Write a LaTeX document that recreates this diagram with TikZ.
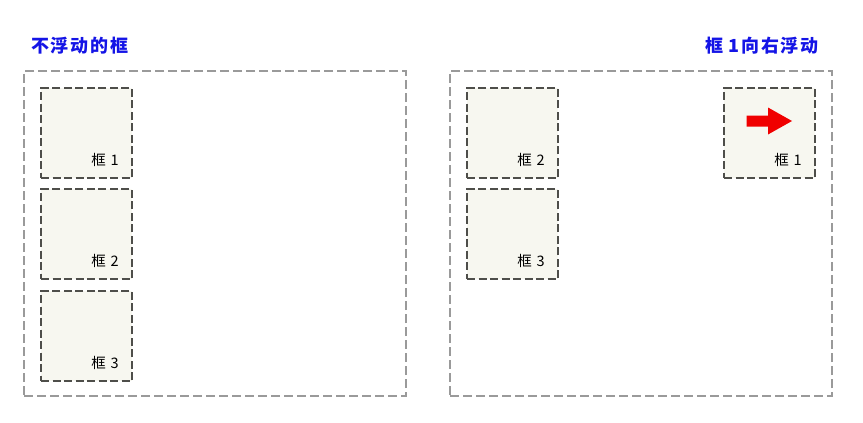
\documentclass[tikz,border=0pt]{standalone}
\usepackage{fontspec}
\newfontfamily\cjk{Noto Sans CJK SC}
\newfontfamily\cjktitle[LetterSpace=10]{Noto Sans CJK SC}
\definecolor{outergray}{HTML}{9A9A9A}
\definecolor{innergray}{HTML}{4E4E4A}
\definecolor{boxfill}{HTML}{F7F7F0}
\definecolor{titleblue}{HTML}{1414E6}
\definecolor{arrowred}{HTML}{F00000}
\tikzset{
  outerbox/.style={draw=outergray, line width=1.2pt, dash pattern=on 9pt off 4pt},
  floatbox/.style={draw=innergray, fill=boxfill, line width=1.8pt, dash pattern=on 8pt off 3.5pt,
    minimum width=91pt, minimum height=90pt, inner sep=0pt, outer sep=0pt},
  boxlabel/.style={anchor=east, inner sep=0pt, font=\cjk\fontsize{14.5}{14.5}\selectfont, text=black},
  titletext/.style={inner sep=0pt, text=titleblue, font=\cjktitle\bfseries\fontsize{18}{18}\selectfont},
}
\newcommand\lbl[1]{框\hspace{5pt}#1}
\begin{document}
\begin{tikzpicture}[x=1pt,y=-1pt]
\useasboundingbox (0,0) rectangle (863,423);
% titles
\node[titletext, anchor=west] (tl) at (31,46) {不浮动的框};
\node[titletext, anchor=east] (tr) at (819,46) {框\hspace{5pt}1向右浮动};
% outer containers
\node[outerbox, inner sep=0pt, minimum width=382pt, minimum height=325pt] (L) at (215,233.5) {};
\node[outerbox, inner sep=0pt, minimum width=382pt, minimum height=325pt] (R) at (641,233.5) {};
% left boxes
\node[floatbox] (l1) at (86.5,133) {};
\node[floatbox] (l2) at (86.5,234) {};
\node[floatbox] (l3) at (86.5,336) {};
\node[boxlabel] (l1t) at ([xshift=-13pt,yshift=18pt]l1.south east) {\lbl{1}};
\node[boxlabel] (l2t) at ([xshift=-13pt,yshift=18pt]l2.south east) {\lbl{2}};
\node[boxlabel] (l3t) at ([xshift=-13pt,yshift=18pt]l3.south east) {\lbl{3}};
% right boxes
\node[floatbox] (r2) at (512.5,133) {};
\node[floatbox] (r3) at (512.5,234) {};
\node[floatbox] (r1) at (769.5,133) {};
\node[boxlabel] (r2t) at ([xshift=-13pt,yshift=18pt]r2.south east) {\lbl{2}};
\node[boxlabel] (r3t) at ([xshift=-13pt,yshift=18pt]r3.south east) {\lbl{3}};
\node[boxlabel] (r1t) at ([xshift=-13pt,yshift=18pt]r1.south east) {\lbl{1}};
% red arrow
\fill[arrowred] (746.5,115.5) -- (768,115.5) -- (768,107.5) -- (792,121) -- (768,134.5) -- (768,126.5) -- (746.5,126.5) -- cycle;
\end{tikzpicture}
\end{document}
